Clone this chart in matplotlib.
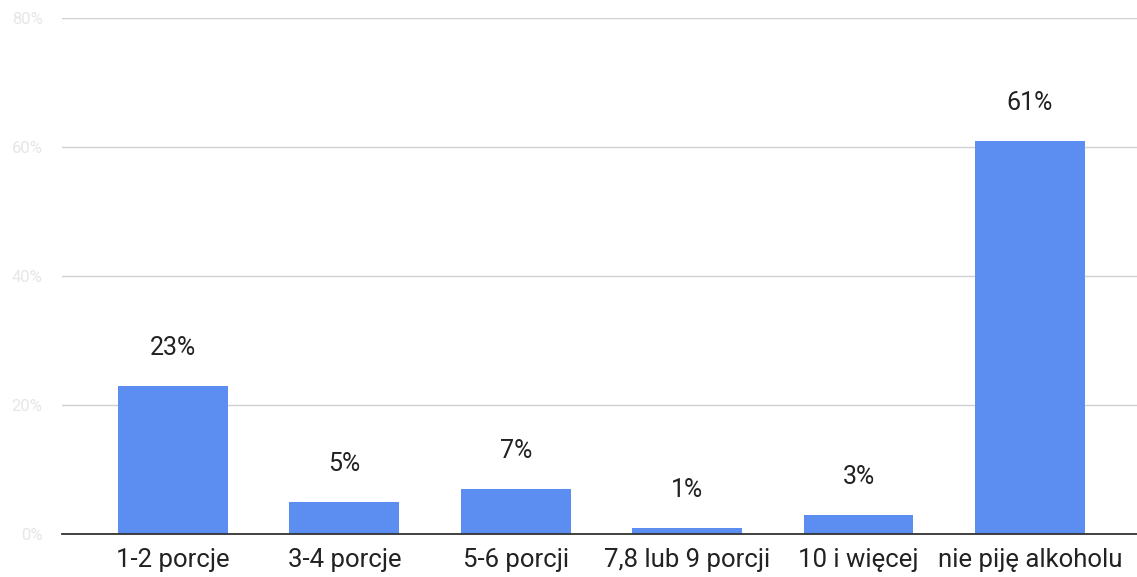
import matplotlib.pyplot as plt
import numpy as np

categories = ["1-2 porcje", "3-4 porcje", "5-6 porcji", "7,8 lub 9 porcji", "10 i więcej", "nie piję alkoholu"]
values = [23, 5, 7, 1, 3, 61]
yticks = [0, 20, 40, 60, 80]

plt.rcParams['font.family'] = ['Roboto', 'DejaVu Sans']

fig = plt.figure(figsize=(11.37, 5.77), dpi=100)
ax = fig.add_axes([62 / 1137, 43 / 577, 1 - 62 / 1137, (534 - 18) / 577])

x = np.arange(len(categories))
ax.bar(x, values, width=0.64, color="#5b8ef0", zorder=3)

for xi, v in zip(x, values):
    ax.text(xi, v + 4.0, f"{v}%", ha="center", va="bottom", fontsize=18, color="#222222")

ax.set_xlim(-0.647, 5.624)
ax.set_ylim(0, 80)
ax.set_xticks(x)
ax.set_xticklabels(categories, fontsize=18.5, color="#222222")
ax.set_yticks(yticks)
ax.set_yticklabels([f"{t}%" for t in yticks], fontsize=12, color="#e6e6e6")
ax.tick_params(axis="both", length=0)
ax.tick_params(axis="x", pad=10)
ax.tick_params(axis="y", pad=14)

ax.grid(axis="y", color="#d0d0d0", linewidth=1, zorder=0)
for s in ["top", "right", "left"]:
    ax.spines[s].set_visible(False)
ax.spines["bottom"].set_color("#333333")
ax.spines["bottom"].set_linewidth(1.3)
ax.spines["bottom"].set_zorder(4)

fig.savefig("out.png", dpi=100)
